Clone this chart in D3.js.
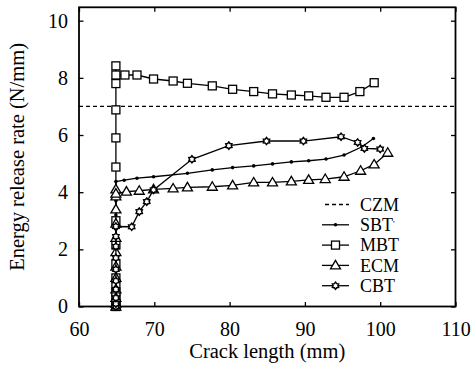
<!DOCTYPE html>
<html lang="en">
<head>
  <meta charset="utf-8"/>
  <title>Energy release rate vs crack length</title>
  <script src="https://d3js.org/d3.v7.min.js"></script>
  <style>
    body { margin: 0; background: #fff; }
    svg text { font-family: "Liberation Serif", "Tinos", "Times New Roman", "Nimbus Roman", "DejaVu Serif", serif; fill: #000; }
  </style>
</head>
<body>
<svg id="chart" width="473" height="367"></svg>
<script>
  // crack length (mm) and energy release rate (N/mm)
  const czmG = 7.0;

  const sbtX = [64.9, 64.9, 64.9, 64.9, 64.9, 64.9, 64.9, 64.9, 64.9, 64.9, 64.9, 64.9, 66.0, 67.7, 69.9, 74.4, 77.7, 80.4, 83.2, 85.7, 88.2, 90.5, 92.8, 95.2, 97.6, 99.1];
  const sbtY = [0, 0.2, 0.5, 0.9, 1.3, 1.7, 2.2, 2.7, 3.2, 3.7, 3.95, 4.37, 4.42, 4.49, 4.54, 4.66, 4.78, 4.86, 4.92, 4.99, 5.06, 5.10, 5.16, 5.30, 5.59, 5.88];

  const mbtX = [64.9, 64.9, 64.9, 64.9, 64.9, 64.9, 64.9, 64.9, 64.9, 64.9, 64.9, 64.9, 64.9, 64.9, 64.9, 64.9, 66.1, 67.7, 69.9, 72.5, 74.4, 77.7, 80.4, 83.2, 85.7, 88.2, 90.5, 92.8, 95.2, 97.3, 99.2];
  const mbtY = [0, 0.05, 0.15, 0.3, 0.5, 0.75, 1.0, 1.5, 2.15, 3.0, 4.88, 5.9, 6.88, 7.8, 8.42, 8.1, 8.1, 8.1, 7.96, 7.89, 7.81, 7.72, 7.60, 7.52, 7.44, 7.40, 7.37, 7.32, 7.32, 7.52, 7.83];

  const ecmX = [64.9, 64.9, 64.9, 64.9, 64.9, 64.9, 64.9, 64.9, 64.9, 64.9, 64.9, 64.9, 64.9, 66.3, 68.0, 69.9, 72.5, 74.4, 77.7, 80.4, 83.2, 85.7, 88.2, 90.5, 92.7, 95.2, 97.4, 99.2, 101.0];
  const ecmY = [0, 0.1, 0.3, 0.6, 1.0, 1.4, 1.9, 2.4, 2.9, 3.4, 3.85, 4.1, 3.95, 4.02, 4.05, 4.10, 4.13, 4.17, 4.19, 4.24, 4.34, 4.34, 4.38, 4.43, 4.46, 4.54, 4.75, 4.97, 5.38];

  const cbtX = [64.9, 64.9, 64.9, 64.9, 64.9, 64.9, 64.9, 64.9, 64.9, 64.9, 67.0, 68.0, 69.0, 69.9, 75.0, 79.9, 84.9, 89.8, 94.8, 97.0, 97.9, 100.0];
  const cbtY = [0, 0.1, 0.3, 0.6, 0.9, 1.3, 1.7, 2.1, 2.45, 2.8, 2.79, 3.32, 3.67, 4.08, 5.15, 5.63, 5.79, 5.79, 5.94, 5.74, 5.53, 5.51];

  const xTicks = [60, 70, 80, 90, 100, 110];
  const yTicks = [0, 2, 4, 6, 8, 10];
  const legendNames = ["CZM", "SBT", "MBT", "ECM", "CBT"];

  const svg = d3.select("#chart");
  const pl = 79, pr = 455.5, pt = 7.3, pb = 306.5;

  const x = d3.scaleLinear().domain([60, 110]).range([pl, pr]);
  const y = d3.scaleLinear().domain([0, 10]).range([pb, 20.7]);

  // frame
  svg.append("rect")
    .attr("x", pl).attr("y", pt)
    .attr("width", pr - pl).attr("height", pb - pt)
    .attr("fill", "none").attr("stroke", "#000").attr("stroke-width", 1.8);

  // ticks (inward, all sides)
  const tickLen = 4.5;
  svg.append("g").attr("transform", `translate(0,${pb})`)
    .call(d3.axisBottom(x).tickValues(xTicks).tickSizeInner(-tickLen).tickSizeOuter(0).tickPadding(10))
    .call(g => g.select(".domain").remove())
    .call(g => g.selectAll("line").attr("stroke-width", 1.3))
    .call(g => g.selectAll("text").attr("font-size", 20).attr("dy", "0.95em"));
  svg.append("g").attr("transform", `translate(0,${pt})`)
    .call(d3.axisTop(x).tickValues(xTicks).tickSizeInner(-tickLen).tickSizeOuter(0).tickFormat(""))
    .call(g => g.select(".domain").remove())
    .call(g => g.selectAll("line").attr("stroke-width", 1.3));
  svg.append("g").attr("transform", `translate(${pl},0)`)
    .call(d3.axisLeft(y).tickValues(yTicks).tickSizeInner(-tickLen).tickSizeOuter(0).tickPadding(11))
    .call(g => g.select(".domain").remove())
    .call(g => g.selectAll("line").attr("stroke-width", 1.3))
    .call(g => g.selectAll("text").attr("font-size", 20));
  svg.append("g").attr("transform", `translate(${pr},0)`)
    .call(d3.axisRight(y).tickValues(yTicks).tickSizeInner(-tickLen).tickSizeOuter(0).tickFormat(""))
    .call(g => g.select(".domain").remove())
    .call(g => g.selectAll("line").attr("stroke-width", 1.3));

  // axis titles
  svg.append("text")
    .attr("x", (pl + pr) / 2).attr("y", 358)
    .attr("text-anchor", "middle").attr("font-size", 20.5)
    .text("Crack length (mm)");
  svg.append("text")
    .attr("transform", `translate(24,${(pt + pb) / 2}) rotate(-90)`)
    .attr("text-anchor", "middle").attr("font-size", 20.5)
    .text("Energy release rate (N/mm)");

  // CZM reference
  svg.append("line")
    .attr("x1", pl).attr("x2", pr)
    .attr("y1", y(czmG)).attr("y2", y(czmG))
    .attr("stroke", "#000").attr("stroke-width", 1.3)
    .attr("stroke-dasharray", "4,3");

  const line = d3.line().x(d => x(d[0])).y(d => y(d[1]));
  const zip = (xs, ys) => xs.map((v, i) => [v, ys[i]]);

  // small cog-like marker used for CBT
  const cog = d3.range(12).map(i => {
    const a = i * Math.PI / 6, r = i % 2 ? 2.4 : 3.6;
    return [r * Math.sin(a), -r * Math.cos(a)];
  });
  const cogPath = "M" + cog.map(p => p.join(",")).join("L") + "Z";

  function drawMarker(g, type, px, py) {
    if (type === "dot") {
      g.append("circle").attr("cx", px).attr("cy", py).attr("r", 1.8).attr("fill", "#000");
    } else if (type === "square") {
      g.append("rect").attr("x", px - 4).attr("y", py - 4).attr("width", 8).attr("height", 8)
        .attr("fill", "#fff").attr("stroke", "#000").attr("stroke-width", 1.3);
    } else if (type === "triangle") {
      g.append("path")
        .attr("d", `M${px},${py - 5}L${px + 5},${py + 3.5}L${px - 5},${py + 3.5}Z`)
        .attr("fill", "#fff").attr("stroke", "#000").attr("stroke-width", 1.3);
    } else if (type === "cog") {
      g.append("path")
        .attr("transform", `translate(${px},${py})`)
        .attr("d", cogPath)
        .attr("fill", "#fff").attr("stroke", "#000").attr("stroke-width", 1.5);
    }
  }

  const series = [
    { xs: sbtX, ys: sbtY, marker: "dot" },
    { xs: mbtX, ys: mbtY, marker: "square" },
    { xs: ecmX, ys: ecmY, marker: "triangle" },
    { xs: cbtX, ys: cbtY, marker: "cog" }
  ];

  series.forEach(s => {
    const pts = zip(s.xs, s.ys);
    const g = svg.append("g");
    g.append("path").attr("d", line(pts))
      .attr("fill", "none").attr("stroke", "#000").attr("stroke-width", 1.3);
    pts.forEach(p => drawMarker(g, s.marker, x(p[0]), y(p[1])));
  });

  // legend
  const lg = svg.append("g");
  const legY0 = 204.5, legStep = 20.3;
  const markers = [null, "dot", "square", "triangle", "cog"];
  legendNames.forEach((name, i) => {
    const ly = legY0 + i * legStep;
    const ln = lg.append("line")
      .attr("x1", 322).attr("x2", 349).attr("y1", ly).attr("y2", ly)
      .attr("stroke", "#000").attr("stroke-width", 1.3);
    if (i === 0) ln.attr("x1", 325).attr("stroke-dasharray", "4,3");
    else drawMarker(lg, markers[i], 335.5, ly);
    const t = lg.append("text")
      .attr("x", 360).attr("y", ly).attr("dy", "0.35em")
      .attr("font-size", 18).text(name);
    if (name === "SBT") t.append("tspan").attr("dy", "-0.45em").attr("font-size", 9).text("'");
  });
</script>
</body>
</html>
